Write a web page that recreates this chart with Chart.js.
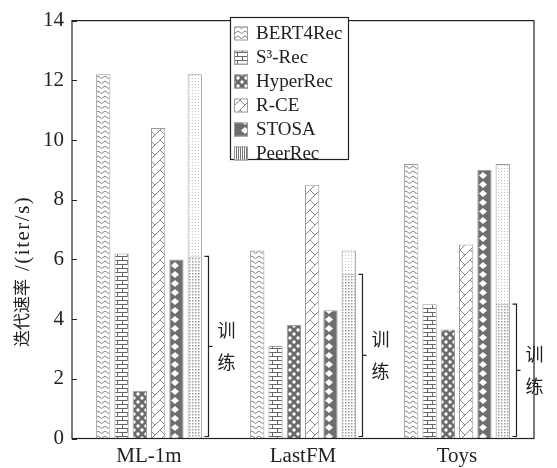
<!DOCTYPE html>
<html>
<head>
<meta charset="utf-8">
<script src="https://cdn.jsdelivr.net/npm/chart.js@4.4.1/dist/chart.umd.min.js"></script>
<style>
  html, body { margin: 0; padding: 0; background: #fff; }
  #wrap { width: 557px; height: 468px; }
</style>
</head>
<body>
<div id="wrap"><canvas id="myChart" width="557" height="468"></canvas></div>
<script>
// data
var categories = ['ML-1m', 'LastFM', 'Toys'];
var bert4rec = [12.2, 6.3, 9.2];
var s3rec = [6.2, 3.1, 4.5];
var hyperrec = [1.6, 3.8, 3.65];
var rce = [10.4, 8.5, 6.5];
var stosa = [6.0, 4.3, 9.0];
var peerrecTrain = [6.1, 5.5, 4.5];
var peerrecTotal = [12.2, 6.3, 9.2];
var yTicks = [0, 2, 4, 6, 8, 10, 12, 14];
var legendNames = ['BERT4Rec', 'S\u00b3-Rec', 'HyperRec', 'R-CE', 'STOSA', 'PeerRec'];
var braceText = ['训', '练'];

var serif = '"Liberation Serif", "Noto Sans CJK SC", serif';
var cjk = '"Noto Sans CJK SC", "Liberation Serif", sans-serif';

function makePattern(w, h, draw) {
	var c = document.createElement('canvas');
	c.width = w; c.height = h;
	var g = c.getContext('2d');
	draw(g, w, h);
	return document.getElementById('myChart').getContext('2d').createPattern(c, 'repeat');
}

// wavy chevrons
var pBert = makePattern(7, 5, function(g, w, h){
	g.fillStyle = '#fff'; g.fillRect(0, 0, w, h);
	g.strokeStyle = '#808080'; g.lineWidth = 1;
	g.beginPath();
	g.moveTo(0, 1); g.lineTo(3.5, 3.5); g.lineTo(7, 1);
	g.stroke();
});
// bricks
var pS3 = makePattern(10, 8, function(g, w, h){
	g.fillStyle = '#fff'; g.fillRect(0, 0, w, h);
	g.strokeStyle = '#666'; g.lineWidth = 1;
	g.beginPath();
	g.moveTo(0, 0.5); g.lineTo(10, 0.5);
	g.moveTo(0, 4.5); g.lineTo(10, 4.5);
	g.moveTo(2.5, 0.5); g.lineTo(2.5, 4.5);
	g.moveTo(7.5, 4.5); g.lineTo(7.5, 8);
	g.stroke();
});
// dark with white circles
var pHyper = makePattern(8, 8, function(g, w, h){
	g.fillStyle = '#6a6a6a'; g.fillRect(0, 0, w, h);
	g.fillStyle = '#fff';
	g.beginPath(); g.arc(2, 2, 1.7, 0, Math.PI * 2); g.fill();
	g.beginPath(); g.arc(6, 6, 1.7, 0, Math.PI * 2); g.fill();
});
// diagonal cross lattice
var pRce = makePattern(10, 10, function(g, w, h){
	g.fillStyle = '#fff'; g.fillRect(0, 0, w, h);
	g.strokeStyle = '#888'; g.lineWidth = 1;
	g.beginPath();
	g.moveTo(0, 10); g.lineTo(10, 0);
	g.moveTo(0, 0); g.lineTo(5, 5);
	g.stroke();
});
// dark with white diamonds
var pStosa = makePattern(14, 9, function(g, w, h){
	g.fillStyle = '#6e6e6e'; g.fillRect(0, 0, w, h);
	g.fillStyle = '#fff';
	g.beginPath();
	g.moveTo(7, 1); g.lineTo(11, 4.5); g.lineTo(7, 8); g.lineTo(3, 4.5);
	g.closePath(); g.fill();
});
// dense dots (training part)
var pPeerLow = makePattern(3, 3, function(g, w, h){
	g.fillStyle = '#fff'; g.fillRect(0, 0, w, h);
	g.fillStyle = '#9a9a9a';
	g.fillRect(0, 0, 1.5, 1.5);
});
// sparse dots (upper part)
var pPeerHigh = makePattern(3, 3, function(g, w, h){
	g.fillStyle = '#fff'; g.fillRect(0, 0, w, h);
	g.fillStyle = '#c4c4c4';
	g.fillRect(0, 0, 1, 1);
});
var pPeerLegend = makePattern(2, 2, function(g, w, h){
	g.fillStyle = '#fff'; g.fillRect(0, 0, w, h);
	g.fillStyle = '#777';
	g.fillRect(0, 0, 1, 2);
});

var edge = '#9a9a9a';
function bars(label, data, fill, stack) {
	return {
		label: label, data: data, backgroundColor: fill,
		borderColor: edge, borderWidth: 1, stack: stack,
		categoryPercentage: 0.713, barPercentage: 0.78
	};
}

var peerrecRest = peerrecTotal.map(function(v, i){ return +(v - peerrecTrain[i]).toFixed(2); });

var cData = {
	labels: categories,
	datasets: [
		bars(legendNames[0], bert4rec, pBert, 'a'),
		bars(legendNames[1], s3rec, pS3, 'b'),
		bars(legendNames[2], hyperrec, pHyper, 'c'),
		bars(legendNames[3], rce, pRce, 'd'),
		bars(legendNames[4], stosa, pStosa, 'e'),
		bars(legendNames[5], peerrecTrain, pPeerLow, 'f'),
		bars('PeerRec-rest', peerrecRest, pPeerHigh, 'f')
	]
};

var legendFills = [pBert, pS3, pHyper, pRce, pStosa, pPeerLegend];

var decor = {
	id: 'decor',
	afterDraw: function(chart) {
		var ctx = chart.ctx;
		var a = chart.chartArea;
		var y = chart.scales.y;
		ctx.save();

		// frame and inner ticks
		ctx.strokeStyle = '#222';
		ctx.lineWidth = 1.2;
		ctx.strokeRect(a.left, a.top, a.right - a.left, a.bottom - a.top);
		ctx.beginPath();
		yTicks.forEach(function(t){
			var py = Math.round(y.getPixelForValue(t)) + 0.5;
			ctx.moveTo(a.left, py); ctx.lineTo(a.left + 5, py);
		});
		ctx.stroke();

		// y axis title: CJK part then latin unit, read bottom to top
		ctx.save();
		ctx.translate(22, 347);
		ctx.rotate(-Math.PI / 2);
		ctx.fillStyle = '#222';
		ctx.textAlign = 'left';
		ctx.textBaseline = 'middle';
		ctx.font = '17px ' + cjk;
		ctx.fillText('迭代速率', 0, 0);
		var w1 = ctx.measureText('迭代速率').width;
		ctx.font = '21px ' + serif;
		ctx.letterSpacing = '1.5px';
		ctx.fillText('/(iter/s)', w1 + 8, 1);
		ctx.letterSpacing = '0px';
		ctx.restore();

		// braces for the training part of PeerRec
		var meta = chart.getDatasetMeta(5);
		ctx.strokeStyle = '#222';
		ctx.lineWidth = 1.2;
		ctx.fillStyle = '#222';
		ctx.font = '18px ' + cjk;
		ctx.textAlign = 'left';
		ctx.textBaseline = 'middle';
		meta.data.forEach(function(bar, i){
			var bx = Math.round(bar.x + bar.width / 2 + 6) + 0.5;
			var top = y.getPixelForValue(peerrecTrain[i]);
			var bot = y.getPixelForValue(0) - 2;
			var mid = (top + bot) / 2;
			ctx.beginPath();
			ctx.moveTo(bx - 4, top); ctx.lineTo(bx, top); ctx.lineTo(bx, bot); ctx.lineTo(bx - 4, bot);
			ctx.moveTo(bx, mid); ctx.lineTo(bx + 4, mid);
			ctx.stroke();
			ctx.fillText(braceText[0], bx + 9, mid - 16);
			ctx.fillText(braceText[1], bx + 9, mid + 16);
		});

		// legend box
		var lx = 230.5, ly = 17.5, lw = 118, lh = 142;
		ctx.fillStyle = '#fff';
		ctx.fillRect(lx, ly, lw, lh);
		ctx.strokeStyle = '#222';
		ctx.lineWidth = 1.2;
		ctx.strokeRect(lx, ly, lw, lh);
		ctx.font = '19px ' + serif;
		ctx.textBaseline = 'middle';
		for (var k = 0; k < legendNames.length; k++) {
			var ry = 33.5 + k * 24;
			ctx.fillStyle = legendFills[k];
			ctx.fillRect(234, ry - 7, 14, 14);
			ctx.strokeStyle = edge;
			ctx.lineWidth = 1;
			ctx.strokeRect(234.5, ry - 6.5, 13, 13);
			ctx.fillStyle = '#222';
			ctx.fillText(legendNames[k], 256, ry + 1);
		}
		ctx.restore();
	}
};

var myChart = new Chart(document.getElementById('myChart'), {
	type: 'bar',
	data: cData,
	options: {
		responsive: false,
		animation: false,
		layout: { padding: { top: 10, right: 23, left: 0, bottom: 0 } },
		plugins: { legend: { display: false }, tooltip: { enabled: false } },
		scales: {
			x: {
				stacked: true,
				grid: { display: false, drawTicks: false },
				border: { display: false },
				ticks: { color: '#222', font: { family: serif, size: 21 }, padding: 5 },
				afterFit: function(s){ s.height = 29.5; }
			},
			y: {
				stacked: true,
				min: 0, max: 14,
				grid: { display: false, drawTicks: false },
				border: { display: false },
				ticks: { stepSize: 2, color: '#222', font: { family: serif, size: 21 }, padding: 8 },
				afterFit: function(s){ s.width = 72; }
			}
		}
	},
	plugins: [decor]
});
</script>
</body>
</html>
